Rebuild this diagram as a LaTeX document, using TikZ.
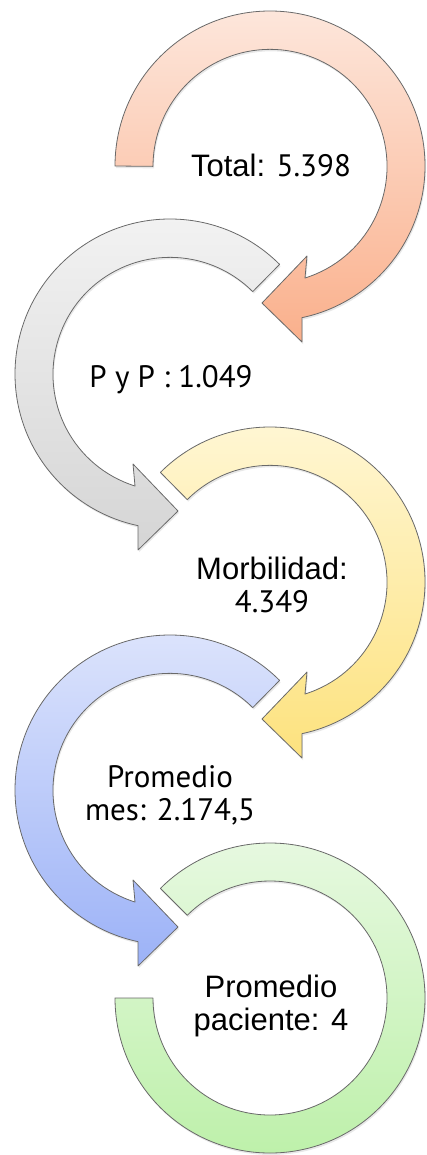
\documentclass[tikz,border=0pt]{standalone}
\usepackage{fontspec}
\setmainfont{Liberation Sans}
\newfontfamily\gill{PT Sans}
\usetikzlibrary{shadows}
\definecolor{ringline}{RGB}{105,105,105}
\definecolor{salTop}{RGB}{253,230,219}
\definecolor{salBot}{RGB}{250,176,140}
\definecolor{greyTop}{RGB}{243,243,243}
\definecolor{greyBot}{RGB}{213,213,213}
\definecolor{yelTop}{RGB}{255,247,214}
\definecolor{yelBot}{RGB}{253,226,126}
\definecolor{bluTop}{RGB}{222,229,252}
\definecolor{bluBot}{RGB}{156,178,247}
\definecolor{grnTop}{RGB}{232,249,226}
\definecolor{grnBot}{RGB}{188,240,168}
\begin{document}
\begin{tikzpicture}[x=1pt,y=1pt,
  ring/.style={draw=ringline, line width=0.8pt, line join=round,
    drop shadow={opacity=0.18, shadow xshift=1pt, shadow yshift=-2pt}},
  lbl/.style={font=\fontsize{31}{33}\selectfont, align=center, inner sep=0pt, anchor=base}]
\useasboundingbox (0,0) rectangle (427,-1155);
% ring 1 (salmon), clockwise from 180 deg with arrow head
\begin{scope}[shift={(270,-166)}]
  \path[ring, top color=salTop, bottom color=salBot]
    (180:155) arc[start angle=180, end angle=-78.1, radius=155]
    -- (32,-176) -- (-8,-137) -- (37,-90) -- (35,-112)
    arc[start angle=-72.6, end angle=180, radius=117] -- cycle;
\end{scope}
% ring 2 (grey), counter-clockwise from 45 deg
\begin{scope}[shift={(170,-374)}]
  \path[ring, top color=greyTop, bottom color=greyBot]
    (45:155) arc[start angle=45, end angle=258.1, radius=155]
    -- (-32,-176) -- (8,-137) -- (-37,-90) -- (-35,-112)
    arc[start angle=252.6, end angle=45, radius=117] -- cycle;
\end{scope}
% ring 3 (yellow), clockwise from 135 deg
\begin{scope}[shift={(270,-582)}]
  \path[ring, top color=yelTop, bottom color=yelBot]
    (135:155) arc[start angle=135, end angle=-78.1, radius=155]
    -- (32,-176) -- (-8,-137) -- (37,-90) -- (35,-112)
    arc[start angle=-72.6, end angle=135, radius=117] -- cycle;
\end{scope}
% ring 4 (blue), counter-clockwise from 45 deg
\begin{scope}[shift={(170,-790)}]
  \path[ring, top color=bluTop, bottom color=bluBot]
    (45:155) arc[start angle=45, end angle=258.1, radius=155]
    -- (-32,-176) -- (8,-137) -- (-37,-90) -- (-35,-112)
    arc[start angle=252.6, end angle=45, radius=117] -- cycle;
\end{scope}
% ring 5 (green), open ring, no arrow head
\begin{scope}[shift={(270,-998)}]
  \path[ring, top color=grnTop, bottom color=grnBot]
    (135:155) arc[start angle=135, end angle=-180, radius=155]
    -- (180:117) arc[start angle=-180, end angle=135, radius=117] -- cycle;
\end{scope}
% labels
\node[lbl] (t1) at (271,-177) {Total: {\gill 5.398}};
\node[lbl] (t2) at (171,-387) {\gill P y P : 1.049};
\node[lbl] (t3) at (272,-612) {Morbilidad:\\{\gill 4.349}};
\node[lbl] (t4) at (170,-820) {\gill Promedio\\\gill mes: 2.174,5};
\node[lbl] (t5) at (271,-1030) {Promedio\\paciente: 4};
\end{tikzpicture}
\end{document}
